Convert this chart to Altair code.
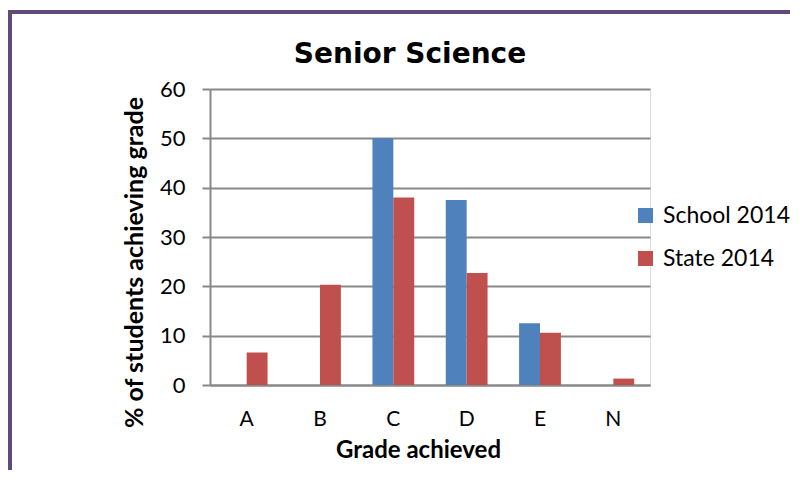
import altair as alt
import pandas as pd

title_text = ["Senior Science"]
grades = ["A", "B", "C", "D", "E", "N"]
school_2014 = [0, 0, 50, 37.5, 12.5, 0]
state_2014 = [6.6, 20.3, 38.0, 22.7, 10.6, 1.3]
series = ["School 2014", "State 2014"]
colors = ["#4F81BD", "#C0504D"]

rows = []
for g, a, b in zip(grades, school_2014, state_2014):
    rows.append({"grade": g, "series": series[0], "value": a})
    rows.append({"grade": g, "series": series[1], "value": b})
df = pd.DataFrame(rows)

FONT = "Lato"

bars = alt.Chart(df).mark_bar().encode(
    x=alt.X("grade:N", sort=grades,
            scale=alt.Scale(paddingInner=0.43, paddingOuter=0.215),
            axis=alt.Axis(title="Grade achieved", labelAngle=0, labelFontSize=21,
                          labelFont=FONT, labelColor="#000", labelPadding=23,
                          ticks=False, domainColor="#888", domainWidth=2,
                          titleFont=FONT, titleFontSize=24, titleFontWeight="bold",
                          titleColor="#000", titleX=208, titleY=65,
                          titleBaseline="middle", titleAnchor="middle")),
    xOffset=alt.XOffset("series:N", sort=series),
    y=alt.Y("value:Q", scale=alt.Scale(domain=[0, 60]),
            axis=alt.Axis(title="% of students achieving grade", values=[0, 10, 20, 30, 40, 50, 60],
                          labelFontSize=22, labelFont=FONT, labelColor="#000",
                          labelPadding=17, tickSize=8, tickColor="#888", tickWidth=2,
                          domainColor="#888", domainWidth=2,
                          gridColor="#888", gridWidth=2,
                          titleFont=FONT, titleFontSize=25, titleFontWeight="bold",
                          titleColor="#000", titleAngle=270, titleX=-76, titleY=173,
                          titleBaseline="middle", titleAnchor="middle")),
    color=alt.Color("series:N", sort=series,
                    scale=alt.Scale(domain=series, range=colors),
                    legend=alt.Legend(title=None, orient="none", legendX=424, legendY=115,
                                      symbolType="square", symbolSize=225,
                                      symbolStrokeWidth=0, labelFont=FONT,
                                      labelFontSize=23, labelColor="#000",
                                      rowPadding=19, padding=0, labelOffset=6)),
)

title = alt.Chart(pd.DataFrame({"t": title_text})).mark_text(
    font="DejaVu Sans", fontSize=28, fontWeight="bold", color="#000",
    align="center", baseline="alphabetic"
).encode(text="t:N", x=alt.value(200), y=alt.value(-26))

border_top = alt.Chart(df).mark_rule(color="#604A7B", strokeWidth=3).encode(
    x=alt.value(-202), x2=alt.value(600), y=alt.value(-77)
)
border_left = alt.Chart(df).mark_rule(color="#604A7B", strokeWidth=3).encode(
    x=alt.value(-200), y=alt.value(-78), y2=alt.value(420)
)

chart = alt.layer(bars, title, border_top, border_left).properties(
    width=440, height=296,
    autosize=alt.AutoSizeParams(type="none"),
    padding={"left": 202, "top": 81, "right": 140, "bottom": 85},
).configure_view(stroke=None).configure(background="white")

chart.save("out.html", embed_options={"renderer": "svg", "actions": False})
